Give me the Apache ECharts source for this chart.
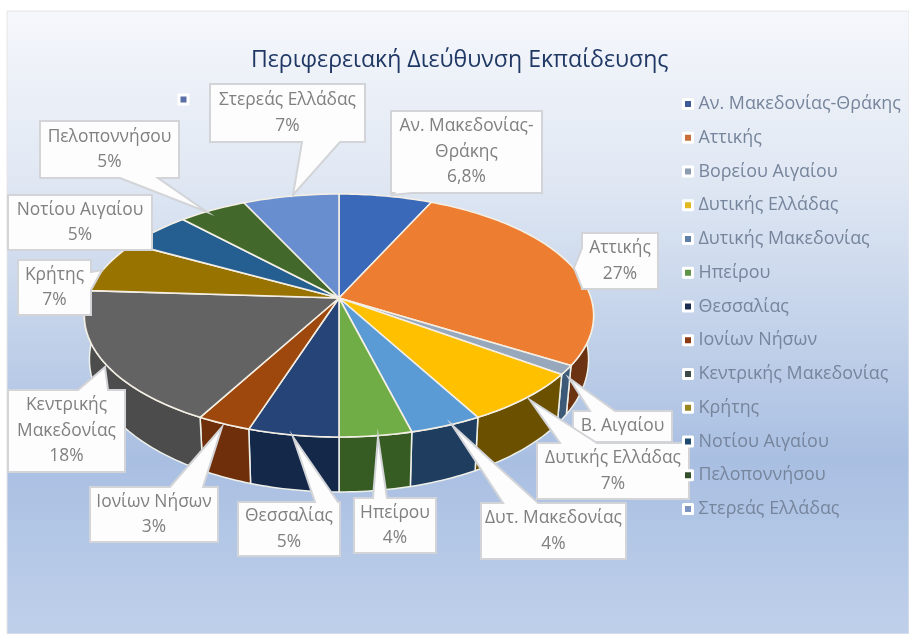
<!DOCTYPE html>
<html><head><meta charset="utf-8">
<style>html,body{margin:0;padding:0;background:#fff}#c{width:909px;height:634px;filter:blur(0.6px)}</style>
<script src="https://cdn.jsdelivr.net/npm/echarts@6/dist/echarts.min.js"></script>
</head><body><div id="c"></div>
<script>
const titleText = 'Περιφερειακή Διεύθυνση Εκπαίδευσης';
const categories = ['Αν. Μακεδονίας-Θράκης','Αττικής','Βορείου Αιγαίου','Δυτικής Ελλάδας','Δυτικής Μακεδονίας','Ηπείρου','Θεσσαλίας','Ιονίων Νήσων','Κεντρικής Μακεδονίας','Κρήτης','Νοτίου Αιγαίου','Πελοποννήσου','Στερεάς Ελλάδας'];
const values = [6.8,27,1.2,7,4,4,5,3,18,7,5,5,7];
const calloutText = ['Αν. Μακεδονίας-\nΘράκης\n6,8%','Αττικής\n27%','Β. Αιγαίου','Δυτικής Ελλάδας\n7%','Δυτ. Μακεδονίας\n4%','Ηπείρου\n4%','Θεσσαλίας\n5%','Ιονίων Νήσων\n3%','Κεντρικής\nΜακεδονίας\n18%','Κρήτης\n7%','Νοτίου Αιγαίου\n5%','Πελοποννήσου\n5%','Στερεάς Ελλάδας\n7%'];
const topColors = ['#3a69b9','#ed7d31','#98a8bc','#ffc000','#5b9bd5','#70ad47','#264478','#9e480e','#636363','#997300','#255e91','#43682b','#698ed0'];
const wallColors = ['#2a4a85','#6b3312','#3c5a78','#6b5000','#1f3d5f','#375c23','#14284a','#6f2f0a','#4c4c4c','#6b5000','#1a4265','#2f4a1e','#4a6494'];
const legendColors = ['#3f5a9a','#c9703a','#8c9bb0','#e0b820','#5f7fa8','#5f9448','#1c2c50','#8c3a14','#3c4a4a','#9a8420','#1f4a70','#33502a','#7d93c0'];

// layout of the callout boxes: x0,y0,x1,y1 and optional tail (edge, a, b, tip)
const boxes = [
 [391,111,542,193,{e:'b',a:394,b:412,tx:392,ty:195}],
 [582,233,658,289,{e:'l',a:248,b:288,tx:574,ty:268}],
 [573,411,672,442,{e:'t',a:590,b:615,tx:569,ty:378}],
 [537,443,689,499,{e:'t',a:560,b:597,tx:530,ty:400}],
 [481,503,626,559,{e:'t',a:503,b:538,tx:452,ty:425}],
 [354,498,436,553,{e:'t',a:373,b:387,tx:378,ty:437}],
 [238,502,340,556,{e:'t',a:315,b:338,tx:293,ty:437}],
 [90,487,218,542,{e:'t',a:170,b:203,tx:222,ty:427}],
 [8,390,125,472,{e:'t',a:78,b:108,tx:105,ty:367}],
 [18,260,91,315,{e:'r',a:272,b:290,tx:102,ty:270}],
 [8,195,152,250,null],
 [40,121,179,178,{e:'b',a:120,b:158,tx:207,ty:212}],
 [210,84,365,142,{e:'b',a:302,b:340,tx:293,ty:195}]
];

const total = values.reduce((a,b)=>a+b,0);
const cum = [0]; values.forEach((v,i)=>cum.push(cum[i]+v));
const CX=339, CY=298, RX=252, RY=119, K=0.1438;
function topPt(t){ // t: angle from 12 o'clock, clockwise
  const u=Math.sin(t), v=-Math.cos(t), w=1-K*v;
  return [CX+RX*u/w, CY+RY*v/w, v];
}
function botPt(t){
  const p=topPt(t);
  return [CX+(p[0]-CX)*0.98, p[1]+42+13*p[2]];
}
const ang = i => cum[i]/total*2*Math.PI;
function arc(fn,a,b){
  const n=Math.max(2,Math.ceil(Math.abs(b-a)/0.02)), out=[];
  for(let j=0;j<=n;j++){const p=fn(a+(b-a)*j/n); out.push([p[0],p[1]]);}
  return out;
}
const WMIN=92*Math.PI/180, WMAX=268*Math.PI/180;
function renderWall(params){
  const i=params.dataIndex, a=Math.max(ang(i),WMIN), b=Math.min(ang(i+1),WMAX);
  if(b<=a) return {type:'group',children:[]};
  const pts=arc(topPt,a,b).concat(arc(botPt,a,b).reverse());
  return {type:'polygon',shape:{points:pts},style:{fill:wallColors[i],stroke:'#eef0ea',lineWidth:1.5,lineJoin:'round'}};
}
function renderTop(params){
  const i=params.dataIndex;
  const pts=[[CX,CY]].concat(arc(topPt,ang(i),ang(i+1)));
  return {type:'polygon',shape:{points:pts},style:{fill:topColors[i],stroke:'#f4efe4',lineWidth:1.6,lineJoin:'round'}};
}
function renderCallout(params){
  const i=params.dataIndex, [x0,y0,x1,y1,t]=boxes[i];
  const p=[[x0,y0]];
  if(t&&t.e==='t') p.push([t.a,y0],[t.tx,t.ty],[t.b,y0]);
  p.push([x1,y0]);
  if(t&&t.e==='r') p.push([x1,t.a],[t.tx,t.ty],[x1,t.b]);
  p.push([x1,y1]);
  if(t&&t.e==='b') p.push([t.b,y1],[t.tx,t.ty],[t.a,y1]);
  p.push([x0,y1]);
  if(t&&t.e==='l') p.push([x0,t.b],[t.tx,t.ty],[x0,t.a]);
  return {type:'group',children:[
    {type:'polygon',shape:{points:p},style:{fill:'#fdfdfd',stroke:'#d2d4d8',lineWidth:2}},
    {type:'text',style:{text:calloutText[i],x:(x0+x1)/2,y:(y0+y1)/2,align:'center',verticalAlign:'middle',
      fill:'#808080',font:'17.4px "Open Sans"',lineHeight:25.5}}
  ]};
}
const chart=echarts.init(document.getElementById('c'),null,{renderer:'canvas'});
chart.setOption({
  animation:false,
  backgroundColor:'#fff',
  title:{text:titleText,left:246,top:44,textStyle:{color:'#1f3864',fontFamily:'Open Sans',fontWeight:'normal',fontSize:23.1}},
  legend:{orient:'vertical',left:677,top:90,itemWidth:9,itemHeight:9,itemGap:15.75,icon:'rect',
    textStyle:{color:'#76859c',fontFamily:'Open Sans',fontSize:17.9,padding:[0,0,0,1]},
    itemStyle:{borderColor:'#fff',borderWidth:3},
    data:categories},
  graphic:[
    {type:'rect',z:-10,silent:true,shape:{x:7,y:11,width:902,height:623},
     style:{fill:new echarts.graphic.LinearGradient(0,0,0,1,[
       {offset:0,color:'#f5f7fb'},{offset:0.25,color:'#e2e9f4'},{offset:0.5,color:'#c4d3ea'},{offset:0.72,color:'#a9bfe2'},{offset:1,color:'#bfd0ea'}]),
       stroke:'#e6e6e6',lineWidth:1}},
    {type:'rect',z:5,silent:true,shape:{x:179,y:95,width:9,height:9},style:{fill:'#5a6fa8',stroke:'#fff',lineWidth:3}}
  ],
  series:[
    {type:'pie',radius:[0,0],center:[CX,CY],silent:true,label:{show:false},labelLine:{show:false},
      data:categories.map((n,i)=>({name:n,value:values[i],itemStyle:{color:legendColors[i]}}))},
    {type:'custom',coordinateSystem:'none',z:2,renderItem:renderWall,data:values,silent:true},
    {type:'custom',coordinateSystem:'none',z:3,renderItem:renderTop,data:values,silent:true},
    {type:'custom',coordinateSystem:'none',z:3.5,renderItem:renderCallout,data:values,silent:true}
  ]
});
</script></body></html>
